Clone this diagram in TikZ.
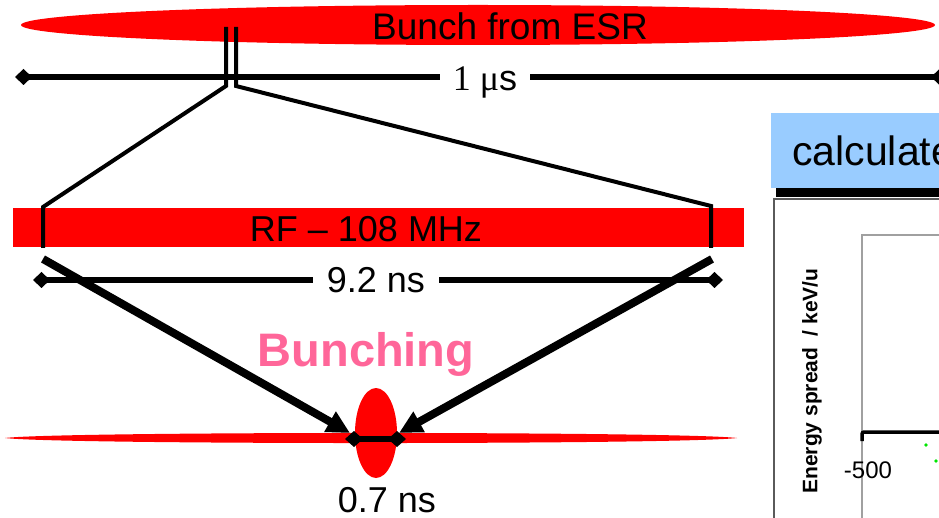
\documentclass[tikz,border=0pt]{standalone}
\usepackage{fontspec}
\setmainfont{Liberation Sans}
\newfontfamily\timesfont{Liberation Serif}
\usetikzlibrary{arrows.meta}
\definecolor{beamred}{RGB}{255,0,0}
\definecolor{bunchpink}{RGB}{255,102,153}
\definecolor{titleblue}{RGB}{153,204,255}
\definecolor{dotgreen}{RGB}{0,230,0}
\definecolor{framegray}{RGB}{90,90,90}
\definecolor{axisgray}{RGB}{160,160,160}

\tikzset{
  lbl/.style={inner sep=0pt, anchor=base, font=\fontsize{36}{40}\selectfont},
  gaplbl/.style={lbl, fill=white, inner xsep=13pt},
  endmark/.tip={Diamond[length=17pt,width=16pt]},
  bigmark/.tip={Diamond[length=18pt,width=16pt]},
  dimline/.style={line width=5.5pt, {endmark}-{endmark}},
  bracket/.style={line width=4pt, line join=miter},
  pusharrow/.style={line width=8pt, -{Triangle[length=23pt,width=22pt]}},
}

\begin{document}
\begin{tikzpicture}[x=1pt,y=-1pt]
\useasboundingbox (0,0) rectangle (939,518);
\clip (0,0) rectangle (939,518);

% coasting bunch from the storage ring
\fill[beamred] (478,25) ellipse [x radius=457, y radius=20];
\node[lbl, font=\fontsize{37}{40}\selectfont] (esr) at (510,40) {Bunch from ESR};

% 1 us revolution scale
\coordinate (usL) at (15,77);
\coordinate (usR) at (948,77);
\draw[dimline] (usL) -- (usR);
\node[gaplbl] (us) at (485,91) {{\timesfont 1 μ}s};

% zoom lines from the ESR bunch to one RF period
\coordinate (zTopL) at (226,27);
\coordinate (zTopR) at (236,27);
\coordinate (zKneeL) at (226,86);
\coordinate (zKneeR) at (236,86);
\coordinate (rfTopL) at (43,207);
\coordinate (rfTopR) at (711,206);
\coordinate (rfBotL) at (43,248);
\coordinate (rfBotR) at (711,248);

% RF bar
\fill[beamred] (13,208) rectangle (744,247);
\node[lbl] (rf) at (366,242) {RF – 108 MHz};

\draw[bracket] (zTopL) -- (zKneeL) -- (rfTopL) -- (rfBotL);
\draw[bracket] (zTopR) -- (zKneeR) -- (rfTopR) -- (rfBotR);

% 9.2 ns RF period scale
\coordinate (nsL) at (33,280);
\coordinate (nsR) at (723,280);
\draw[dimline] (nsL) -- (nsR);
\node[gaplbl, inner xsep=14pt] (ns) at (376,293) {9.2 ns};

% bunched beam
\fill[beamred] (5,438) .. controls (60,431.3) and (680,431.3) .. (737,438)
  .. controls (680,444.7) and (60,444.7) .. (5,438) -- cycle;
\fill[beamred] (376,433) ellipse [x radius=21, y radius=45];

\coordinate (bL) at (345,439);
\coordinate (bR) at (406,439);
\draw[line width=6pt, {bigmark}-{bigmark}] (bL) -- (bR);
\node[lbl] (short) at (387,512) {0.7 ns};

\node[lbl, font=\bfseries\fontsize{47}{50}\selectfont, text=bunchpink]
  (bunching) at (366,366) {Bunching};

% compression arrows
\coordinate (aL) at (43,259);
\coordinate (aR) at (712,259);
\coordinate (tipL) at (350,433);
\coordinate (tipR) at (399,433);
\draw[pusharrow] (aL) -- (tipL);
\draw[pusharrow] (aR) -- (tipR);

% calculation panel
\fill[black] (776,118) rectangle (960,197);
\fill[titleblue] (771,113) rectangle (955,188);
\node[lbl, anchor=base west, font=\fontsize{41}{44}\selectfont] (calc) at (792,166) {calculate};

\draw[framegray, line width=1.5pt] (774,199) rectangle (980,540);
\draw[axisgray, line width=1.5pt] (862,540) -- (862,235) -- (980,235);
\draw[line width=3.5pt, rounded corners=2pt] (862,441) -- (862,432) -- (980,432);

\node[inner sep=0pt, rotate=90, font=\bfseries\fontsize{21}{24}\selectfont]
  (ylabel) at (812,381) {Energy spread\ \ / keV/u};
\node[lbl, font=\fontsize{24}{26}\selectfont] (tick) at (868,478) {-500};

\fill[dotgreen] (926,445) circle (1.8);
\fill[dotgreen] (936,461) circle (1.8);
\end{tikzpicture}
\end{document}
